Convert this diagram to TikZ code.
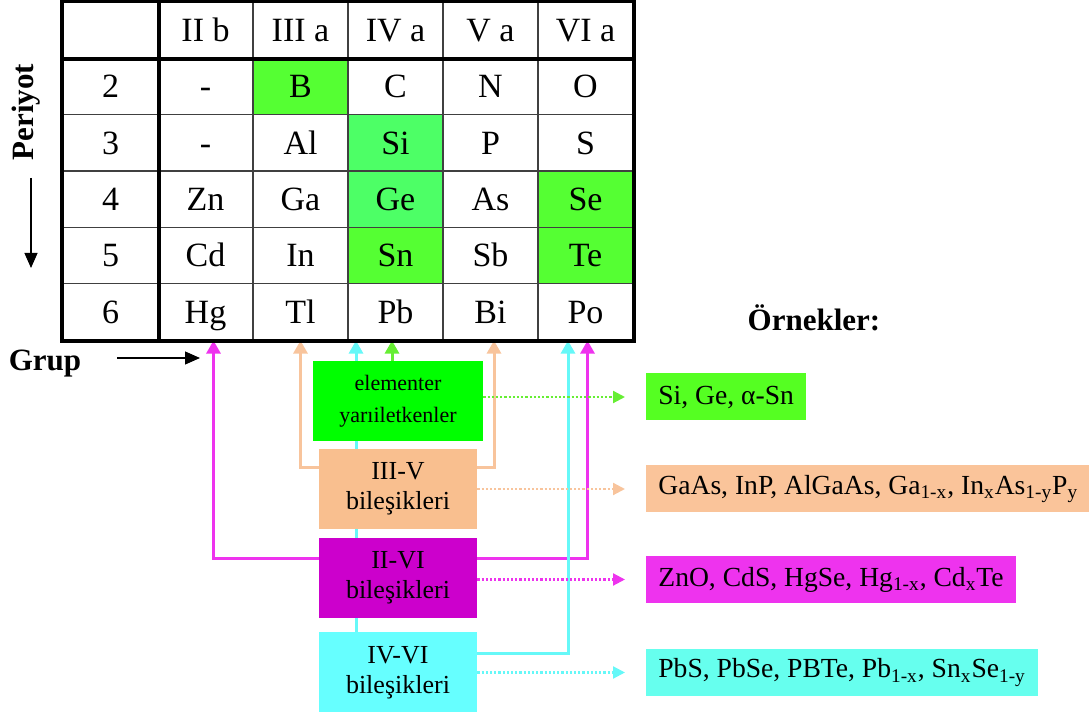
\documentclass[tikz,border=0pt]{standalone}
\usepackage{fontspec}
\setmainfont{Liberation Serif}
\usetikzlibrary{arrows.meta,positioning,backgrounds}
\definecolor{gCell}{HTML}{55FF33}
\definecolor{gCellB}{HTML}{4DFF66}
\definecolor{gBox}{HTML}{00FF00}
\definecolor{pBox}{HTML}{F9BF8F}
\definecolor{mBox}{HTML}{CC00CC}
\definecolor{cBox}{HTML}{66FFFF}
\definecolor{gEx}{HTML}{55FF22}
\definecolor{pEx}{HTML}{FAC49A}
\definecolor{mEx}{HTML}{EE33EE}
\definecolor{cEx}{HTML}{66FFEE}
\definecolor{gArr}{HTML}{66EE33}
\definecolor{pArr}{HTML}{F8C49C}
\definecolor{mArr}{HTML}{EE33EE}
\definecolor{cArr}{HTML}{66F8F8}
\tikzset{
  cell/.style={draw=black!75, line width=0.6pt, minimum width=47.5pt, minimum height=28.17pt, inner sep=0pt, text height=11.3pt, text depth=0pt, font=\fontsize{17}{20}\selectfont},
  grp/.style={minimum width=79pt, minimum height=40pt, inner sep=2pt, align=center, font=\fontsize{13}{15}\selectfont},
  ex/.style={anchor=west, minimum height=23.5pt, inner xsep=6pt, inner ysep=0pt, font=\fontsize{13.8}{16}\selectfont},
  lbl/.style={font=\fontsize{15.5}{18}\selectfont\bfseries},
  link/.style={line width=1.5pt, -{Triangle[length=6.5pt,width=7pt]}},
  dotarr/.style={line width=1.1pt, densely dotted, -{Triangle[length=6pt,width=6pt]}},
  blkarr/.style={line width=0.6pt, -{Triangle[length=7.5pt,width=6.5pt]}},
}

\begin{document}
\begin{tikzpicture}[x=0.5pt, y=-0.5pt]
  \useasboundingbox (0,0) rectangle (1089,715);
  % table
  \foreach \items [count=\ri from 0] in {{{},II b,III a,IV a,V a,VI a},{2,-,B,C,N,O},{3,-,Al,Si,P,S},{4,Zn,Ga,Ge,As,Se},{5,Cd,In,Sn,Sb,Te},{6,Hg,Tl,Pb,Bi,Po}}
    \foreach \t [count=\ci from 0] in \items
      \node[cell] (c-\ri-\ci) at ({63+95*(\ci+0.5)},{2+56.33*(\ri+0.5)}) {\t};
  \draw[line width=2pt] (c-0-0.north west) rectangle (c-5-5.south east);
  \draw[line width=2pt] (c-0-0.south west) -- (c-0-5.south east);
  \draw[line width=2pt] (c-0-0.north east) -- (c-5-0.south east);

  \node[lbl, rotate=90] (per) at (26,112) {Periyot};
  \coordinate (per-a) at (31,178);
  \coordinate (per-b) at (31,268);
  \draw[blkarr] (per-a) -- (per-b);
  \node[lbl] (grup) at (45,364) {Grup};
  \coordinate (grup-a) at (117,358);
  \coordinate (grup-b) at (200,358);
  \draw[blkarr] (grup-a) -- (grup-b);
  \node[lbl] (ornek) at (814,318) {Örnekler:};

  % groups
  \node[grp, fill=gBox, minimum width=85pt, font=\fontsize{11}{16}\selectfont] (elem) at (398,401) {elementer\\yarıiletkenler};
  \node[grp, fill=pBox, below=3.5pt of elem] (iiiv) {III-V\\bileşikleri};
  \node[grp, fill=mBox, below=4pt of iiiv] (iivi) {II-VI\\bileşikleri};
  \node[grp, fill=cBox, below=7pt of iivi] (ivvi) {IV-VI\\bileşikleri};

  % examples
  \node[ex, fill=gEx] (ex-el) at (646,397) {Si, Ge, α-Sn};
  \node[ex, fill=pEx] (ex-iiiv) at (646,489) {GaAs, InP, AlGaAs, Ga\textsubscript{1-x}, In\textsubscript{x}As\textsubscript{1-y}P\textsubscript{y}};
  \node[ex, fill=mEx] (ex-iivi) at (646,579.5) {ZnO, CdS, HgSe, Hg\textsubscript{1-x}, Cd\textsubscript{x}Te};
  \node[ex, fill=cEx] (ex-ivvi) at (646,672.5) {PbS, PbSe, PBTe, Pb\textsubscript{1-x}, Sn\textsubscript{x}Se\textsubscript{1-y}};

  \begin{scope}[on background layer]
    \foreach \n/\col in {1-2/gCell, 2-3/gCellB, 3-3/gCellB, 4-3/gCell, 3-5/gCell, 4-5/gCell}
      \fill[\col] (c-\n.north west) rectangle (c-\n.south east);
    % group -> elements
    \draw[link, gArr] ([xshift=-3pt]elem.north) -- ([xshift=-3pt]elem.north |- c-5-3.south);
    \draw[link, cArr] ([xshift=-21pt]ivvi.north) -- ([xshift=-21pt]ivvi.north |- c-5-3.south);
    \draw[link, pArr] ([yshift=10.5pt]iiiv.west) -| (c-5-2.south);
    \draw[link, pArr] ([yshift=10.5pt]iiiv.east) -| ([xshift=1.75pt]c-5-4.south);
    \draw[link, mArr] ([yshift=9.5pt]iivi.west) -| ([xshift=4pt]c-5-1.south);
    \draw[link, mArr] ([yshift=9.5pt]iivi.east) -| ([xshift=1pt]c-5-5.south);
    \draw[link, cArr] ([yshift=9.5pt]ivvi.east) -| ([xshift=-8.75pt]c-5-5.south);
  \end{scope}

  % group -> examples
  \draw[dotarr, gArr] (elem.east |- ex-el.west) -- ([xshift=-10.5pt]ex-el.west);
  \draw[dotarr, pArr] (iiiv.east |- ex-iiiv.west) -- ([xshift=-10.5pt]ex-iiiv.west);
  \draw[dotarr, mArr] (iivi.east |- ex-iivi.west) -- ([xshift=-10.5pt]ex-iivi.west);
  \draw[dotarr, cArr] (ivvi.east |- ex-ivvi.west) -- ([xshift=-10.5pt]ex-ivvi.west);
\end{tikzpicture}
\end{document}
